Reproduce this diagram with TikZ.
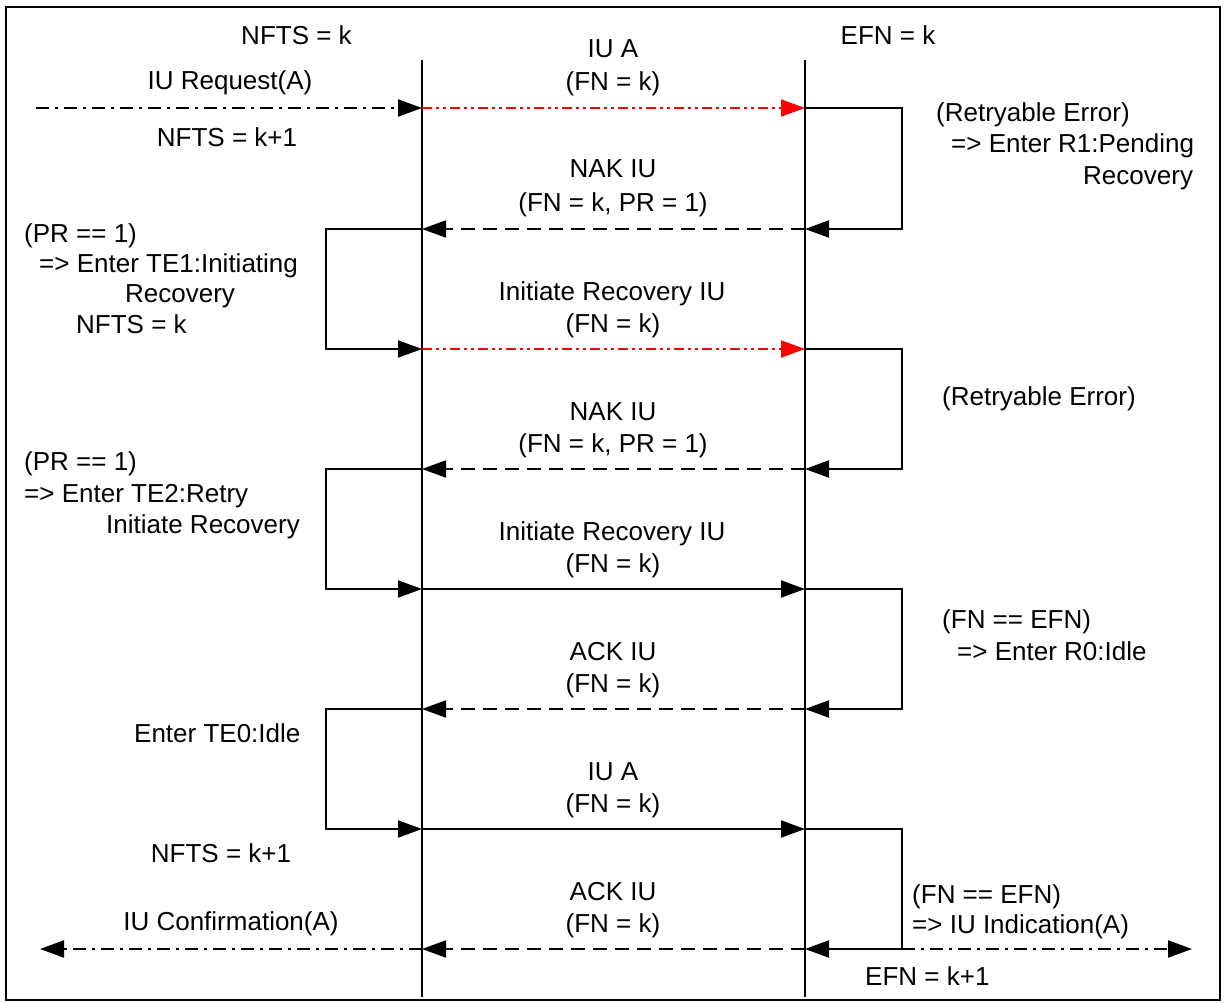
\documentclass[tikz,border=0pt]{standalone}
\usepackage{fontspec}
\setmainfont{Liberation Sans}
\usetikzlibrary{arrows.meta}
\begin{document}
\begin{tikzpicture}[x=1pt,y=-1pt,
  lbl/.style={inner sep=0pt, font=\fontsize{26}{32}\selectfont, anchor=base},
  lblw/.style={lbl, anchor=base west},
  life/.style={line width=2pt},
  msg/.style={line width=2pt, -{Triangle[length=24pt,width=17pt]}},
  dashmsg/.style={msg, dash pattern=on 14pt off 8pt},
  dotmsg/.style={msg, dash pattern=on 13pt off 6pt on 3pt off 6pt},
  redmsg/.style={msg, red, dash pattern=on 10pt off 4pt on 3pt off 4pt on 3pt off 4pt},
]
\useasboundingbox (0,0) rectangle (1226,1003);

% outer frame
\draw[line width=2.5pt] (6,7) rectangle (1220,1000);

% lifelines of the two ends
\coordinate (Ltop) at (422,60);
\coordinate (Lbot) at (422,997);
\coordinate (Rtop) at (805,60);
\coordinate (Rbot) at (805,997);
\draw[life] (Ltop) -- (Lbot);
\draw[life] (Rtop) -- (Rbot);

% message rows on the lifelines
\foreach \i/\yy in {1/108,2/229,3/349,4/469,5/589,6/709,7/829,8/949}{
  \coordinate (L\i) at (422,\yy);
  \coordinate (R\i) at (805,\yy);
}
\coordinate (reqS) at (36,108);
\coordinate (confE) at (40,949);
\coordinate (indS) at (902,949);
\coordinate (indE) at (1192,949);

% service primitives
\draw[dotmsg] (reqS) -- (L1);
\draw[dotmsg] (L8) -- (confE);
\draw[dotmsg] (indS) -- (indE);

% frames between the ends
\draw[redmsg] (L1) -- (R1);
\draw[dashmsg] (R2) -- (L2);
\draw[redmsg] (L3) -- (R3);
\draw[dashmsg] (R4) -- (L4);
\draw[msg] (L5) -- (R5);
\draw[dashmsg] (R6) -- (L6);
\draw[msg] (L7) -- (R7);
\draw[dashmsg] (R8) -- (L8);

% local processing loops
\draw[msg] (R1) -- ++(97,0) |- (R2);
\draw[msg] (R3) -- ++(97,0) |- (R4);
\draw[msg] (R5) -- ++(97,0) |- (R6);
\draw[msg] (R7) -- ++(97,0) |- (R8);
\draw[msg] (L2) -- ++(-96,0) |- (L3);
\draw[msg] (L4) -- ++(-96,0) |- (L5);
\draw[msg] (L6) -- ++(-96,0) |- (L7);

% state labels at the top
\node[lbl] (nfts0) at (296.5,45) {NFTS = k};
\node[lbl] (efn0) at (888,45) {EFN = k};
\node[lbl] (req) at (230,90) {IU Request(A)};
\node[lbl] (nfts1) at (227,147) {NFTS = k+1};

% frame labels
\node[lbl] (m1a) at (613,58) {IU A};
\node[lbl] (m1b) at (613,91) {(FN = k)};
\node[lbl] (m2a) at (613,178) {NAK IU};
\node[lbl] (m2b) at (613,212) {(FN = k, PR = 1)};
\node[lbl] (m3a) at (612,300) {Initiate Recovery IU};
\node[lbl] (m3b) at (613,332) {(FN = k)};
\node[lbl] (m4a) at (613,420) {NAK IU};
\node[lbl] (m4b) at (613,452) {(FN = k, PR = 1)};
\node[lbl] (m5a) at (612,540) {Initiate Recovery IU};
\node[lbl] (m5b) at (613,572) {(FN = k)};
\node[lbl] (m6a) at (613,660) {ACK IU};
\node[lbl] (m6b) at (613,692) {(FN = k)};
\node[lbl] (m7a) at (613,780) {IU A};
\node[lbl] (m7b) at (613,812) {(FN = k)};
\node[lbl] (m8a) at (613,900) {ACK IU};
\node[lbl] (m8b) at (613,932) {(FN = k)};

% transmitter side notes
\node[lblw] (l1a) at (24,242) {(PR == 1)};
\node[lblw] (l1b) at (39,272) {=> Enter TE1:Initiating};
\node[lblw] (l1c) at (125,302) {Recovery};
\node[lblw] (l1d) at (76,333) {NFTS = k};
\node[lblw] (l2a) at (24,470) {(PR == 1)};
\node[lblw] (l2b) at (24,502) {=> Enter TE2:Retry};
\node[lblw] (l2c) at (106,533) {Initiate Recovery};
\node[lblw] (l3) at (134,742) {Enter TE0:Idle};
\node[lbl] (nfts3) at (221,862) {NFTS = k+1};
\node[lbl] (conf) at (231,930) {IU Confirmation(A)};

% receiver side notes
\node[lblw] (r1a) at (936,122) {(Retryable Error)};
\node[lblw] (r1b) at (951,153) {=> Enter R1:Pending};
\node[lblw] (r1c) at (1083,185) {Recovery};
\node[lblw] (r2) at (942,405) {(Retryable Error)};
\node[lblw] (r3a) at (942,628) {(FN == EFN)};
\node[lblw] (r3b) at (957,660) {=> Enter R0:Idle};
\node[lblw] (r4a) at (912,903) {(FN == EFN)};
\node[lblw] (r4b) at (912,933) {=> IU Indication(A)};
\node[lblw] (efn1) at (865,985) {EFN = k+1};
\end{tikzpicture}
\end{document}
